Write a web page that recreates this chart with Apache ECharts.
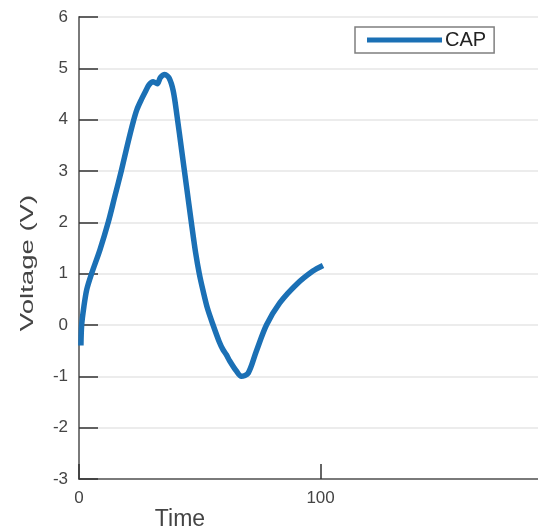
<!DOCTYPE html>
<html>
<head>
<meta charset="utf-8">
<script src="https://cdn.jsdelivr.net/npm/echarts@6/dist/echarts.min.js"></script>
<style>
  html, body { margin: 0; padding: 0; background: #fff; }
  #chart { width: 538px; height: 531px; }
</style>
</head>
<body>
<div id="chart"></div>
<script>
// Capacitor voltage trace
const seriesName = 'CAP';
const timeValues = [0.8, 1.1, 2, 3.2, 5.2, 8.7, 12.1, 14.8, 17.5, 20, 22.4, 24, 25.9, 27.5, 29, 30.7, 32.4, 33.7, 35.5, 37.3, 39, 40.5, 42.5, 44.5, 46.5, 48.3, 49.8, 51.3, 53.2, 55.5, 58, 59.6, 61, 62.4, 65.2, 67.2, 70, 73.4, 77.6, 83.1, 90, 96.8, 101];
const voltageValues = [-0.4, 0, 0.35, 0.69, 1.0, 1.47, 2.0, 2.5, 3.0, 3.5, 3.95, 4.2, 4.4, 4.55, 4.68, 4.74, 4.70, 4.82, 4.88, 4.81, 4.56, 4.1, 3.4, 2.7, 2.0, 1.4, 1.0, 0.68, 0.32, 0, -0.32, -0.48, -0.58, -0.7, -0.9, -1.0, -0.94, -0.51, 0, 0.43, 0.79, 1.05, 1.16];
const xRange = [0, 190];
const xTicks = [0, 100];
const yTicks = [-3, -2, -1, 0, 1, 2, 3, 4, 5, 6];
const xLabel = 'Time';
const yLabel = 'Voltage (V)';

const points = timeValues.map((t, i) => [t, voltageValues[i]]);

const chart = echarts.init(document.getElementById('chart'), null, { renderer: 'canvas' });
const labelColor = '#444';
const fontFamily = 'Liberation Sans, Arial, sans-serif';

chart.setOption({
  animation: false,
  backgroundColor: '#fff',
  grid: { left: 79, top: 17, bottom: 52, right: 0, containLabel: false },
  legend: {
    data: [{ name: seriesName, icon: 'rect' }],
    left: 355, top: 27,
    itemWidth: 75, itemHeight: 5, itemGap: 0,
    padding: [3, 8, 3, 12],
    borderColor: '#7f7f7f', borderWidth: 1.5,
    backgroundColor: '#fff',
    textStyle: { color: '#222', fontSize: 20, fontFamily: fontFamily, padding: [0, 0, 0, -2] }
  },
  xAxis: {
    type: 'value',
    min: xRange[0], max: xRange[1],
    axisLine: { show: true, onZero: false, lineStyle: { color: '#7a7a7a', width: 2 } },
    axisTick: { show: true, inside: true, length: 15, customValues: xTicks, lineStyle: { color: '#333', width: 1.5 } },
    axisLabel: { color: labelColor, fontSize: 17, margin: 11, fontFamily: fontFamily, customValues: xTicks },
    splitLine: { show: false }
  },
  yAxis: {
    type: 'value',
    min: yTicks[0], max: yTicks[yTicks.length - 1], interval: 1,
    axisLine: { show: true, onZero: false, lineStyle: { color: '#7a7a7a', width: 2 } },
    axisTick: { show: true, inside: true, length: 19, lineStyle: { color: '#333', width: 1.5 } },
    axisLabel: { color: labelColor, fontSize: 17, margin: 11, fontFamily: fontFamily },
    splitLine: { show: true, lineStyle: { color: '#e6e6e6', width: 1.5 } }
  },
  graphic: [
    {
      type: 'text', x: 28, y: 263, rotation: Math.PI / 2, scaleX: 1.45,
      style: { text: yLabel, fill: labelColor, fontSize: 19, fontFamily: fontFamily, align: 'center', verticalAlign: 'middle' }
    },
    {
      type: 'text', x: 180, y: 520,
      style: { text: xLabel, fill: labelColor, fontSize: 23, fontFamily: fontFamily, align: 'center', verticalAlign: 'middle' }
    }
  ],
  series: [{
    name: seriesName,
    type: 'line',
    data: points,
    showSymbol: false,
    smooth: 0.3,
    lineStyle: { color: '#1b70b5', width: 5.5, cap: 'butt', join: 'round' },
    itemStyle: { color: '#1b70b5' },
    z: 3
  }]
});
</script>
</body>
</html>
